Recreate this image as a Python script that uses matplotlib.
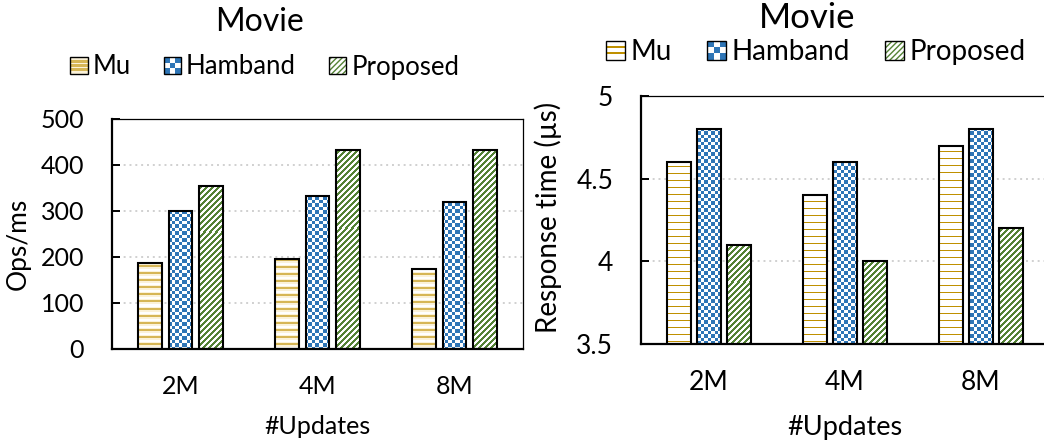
import matplotlib

matplotlib.use("Agg")
import matplotlib.pyplot as plt
import numpy as np
from matplotlib.legend_handler import HandlerBase
from matplotlib.patches import Rectangle

# data
categories = ["2M", "4M", "8M"]
series = ["Mu", "Hamband", "Proposed"]
ops_mu = [187, 195, 175]
ops_hamband = [300, 332, 320]
ops_proposed = [355, 433, 432]
resp_mu = [4.6, 4.4, 4.7]
resp_hamband = [4.8, 4.6, 4.8]
resp_proposed = [4.1, 4.0, 4.2]

W, H = 1044, 446

GOLD = "#D6B656"
CREAM = "#FBF2D9"
DARK_GOLD = "#BF9000"
BLUE = "#2E75B6"
GREEN = "#548235"

plt.rcParams["font.family"] = ["Lato", "DejaVu Sans"]


def hex_rgb(c):
    return np.array(matplotlib.colors.to_rgb(c))


def pattern(kind, w, h):
    """RGB array covering the whole axes area, one cell per screen pixel."""
    yy, xx = np.mgrid[0:h, 0:w]
    img = np.ones((h, w, 3))
    if kind == "stripes":
        img[:] = hex_rgb(CREAM)
        img[(yy % 7) < 2] = hex_rgb(GOLD)
        img[(yy % 7 >= 4) & (yy % 7 < 6)] = 1.0
    elif kind == "lines":
        img[(yy % 7) == 0] = hex_rgb(DARK_GOLD)
    elif kind == "checker":
        img[((xx * 2 // 7) + (yy * 2 // 7)) % 2 == 0] = hex_rgb(BLUE)
    elif kind == "diag":
        img[((xx + yy) % 6) < 3] = hex_rgb(GREEN)
    return img


def patterned_bars(ax, x, values, width, kind, px_w, px_h):
    bars = ax.bar(x, values, width, facecolor="none", edgecolor="black",
                  linewidth=1.5, zorder=3)
    xlim, ylim = ax.get_xlim(), ax.get_ylim()
    img = pattern(kind, px_w, px_h)
    for bar in bars:
        im = ax.imshow(img, extent=(xlim[0], xlim[1], ylim[0], ylim[1]),
                       origin="upper", aspect="auto", interpolation="nearest",
                       zorder=2)
        im.set_clip_path(bar)
    ax.set_xlim(xlim)
    ax.set_ylim(ylim)


class PatternHandler(HandlerBase):
    def __init__(self, kind):
        super().__init__()
        self.kind = kind

    def create_artists(self, legend, orig_handle, xdescent, ydescent,
                       width, height, fontsize, trans):
        s = height
        x0, y0 = -xdescent + (width - s) / 2, -ydescent
        arts = [Rectangle((x0, y0), s, s, facecolor="white", edgecolor="none",
                          transform=trans)]
        if self.kind == "checker":
            n = 3
            c = s / n
            for i in range(n):
                for j in range(n):
                    if (i + j) % 2 == 0:
                        arts.append(Rectangle((x0 + i * c, y0 + j * c), c, c,
                                              facecolor=BLUE, edgecolor="none",
                                              transform=trans))
        elif self.kind == "stripes":
            arts[0].set_facecolor(CREAM)
            th = s * 0.16
            for k in range(1, 4):
                arts.append(Rectangle((x0, y0 + k * s / 4 - th / 2), s, th,
                                      facecolor=GOLD, edgecolor="none",
                                      transform=trans))
        elif self.kind == "lines":
            th = s * 0.1
            for k in range(1, 3):
                arts.append(Rectangle((x0, y0 + k * s / 3 - th / 2), s, th,
                                      facecolor=DARK_GOLD, edgecolor="none",
                                      transform=trans))
        elif self.kind == "diag":
            arts.append(Rectangle((x0, y0), s, s, facecolor="white",
                                  edgecolor=GREEN, hatch="//////", linewidth=0,
                                  transform=trans))
        arts.append(Rectangle((x0, y0), s, s, facecolor="none",
                              edgecolor="black", linewidth=1.0, transform=trans))
        return arts


def style_axes(ax, ylim, yticks, fs):
    ax.set_ylim(ylim)
    ax.set_xlim(-0.5, len(categories) - 0.5)
    ax.set_yticks(yticks)
    ax.set_xticks(range(len(categories)))
    ax.set_xticklabels(categories)
    ax.tick_params(axis="x", length=0, pad=19, labelsize=fs)
    ax.tick_params(axis="y", direction="in", length=6, width=1.4, pad=20,
                   labelsize=fs)
    ax.grid(axis="y", color="#D0D0D0", linestyle=(0, (1, 2)), linewidth=1.4,
            zorder=0)
    ax.set_axisbelow(True)
    for side in ("left", "bottom"):
        ax.spines[side].set_linewidth(1.6)
    for side in ("top", "right"):
        ax.spines[side].set_linewidth(0.9)


def draw_panel(ax, rect, values, kinds, ylim, yticks, fs):
    style_axes(ax, ylim, yticks, fs)
    px_w, px_h = int(round(rect[2] * W)), int(round(rect[3] * H))
    x = np.arange(len(categories))
    width, step = 0.175, 0.222
    for k, (vals, kind) in enumerate(zip(values, kinds)):
        patterned_bars(ax, x + (k - 1) * step, vals, width, kind, px_w, px_h)


fig = plt.figure(figsize=(W / 100, H / 100), dpi=100)

rect_l = [112 / W, 1 - 349 / H, 411 / W, 230 / H]
rect_r = [641 / W, 1 - 344 / H, 408 / W, 248 / H]
ax_l = fig.add_axes(rect_l)
ax_r = fig.add_axes(rect_r)

draw_panel(ax_l, rect_l, [ops_mu, ops_hamband, ops_proposed],
           ["stripes", "checker", "diag"], (0, 500), np.arange(0, 501, 100), 18)
draw_panel(ax_r, rect_r, [resp_mu, resp_hamband, resp_proposed],
           ["lines", "checker", "diag"], (3.5, 5), [3.5, 4, 4.5, 5], 19)
ax_r.set_yticklabels(["3.5", "4", "4.5", "5"])
ax_r.spines["right"].set_visible(False)

# titles, axis labels and legends placed in figure pixels
def fx(px):
    return px / W


def fy(py):
    return 1 - py / H


fig.text(fx(260), fy(22), "Movie", ha="center", va="center", fontsize=23)
fig.text(fx(807), fy(18), "Movie", ha="center", va="center", fontsize=25)
fig.text(fx(18), fy(244), "Ops/ms", rotation=90, ha="center", va="center",
         fontsize=19)
fig.text(fx(548), fy(217), "Response time (µs)", rotation=90, ha="center",
         va="center", fontsize=20)
fig.text(fx(317), fy(427), "#Updates", ha="center", va="center", fontsize=18)
fig.text(fx(845), fy(428), "#Updates", ha="center", va="center", fontsize=19.5)

for kinds, center, fs in ((["stripes", "checker", "diag"], (265, 67), 18.5),
                          (["lines", "checker", "diag"], (816, 52), 20)):
    handles = [Rectangle((0, 0), 1, 1) for _ in series]
    fig.legend(handles, series, loc="center",
               bbox_to_anchor=(fx(center[0]), fy(center[1])),
               ncol=3, frameon=False, fontsize=fs, handlelength=0.65,
               handleheight=0.65, handletextpad=0.2, columnspacing=1.3,
               borderpad=0,
               handler_map={h: PatternHandler(k) for h, k in zip(handles, kinds)})

fig.savefig("out.png", dpi=100)
